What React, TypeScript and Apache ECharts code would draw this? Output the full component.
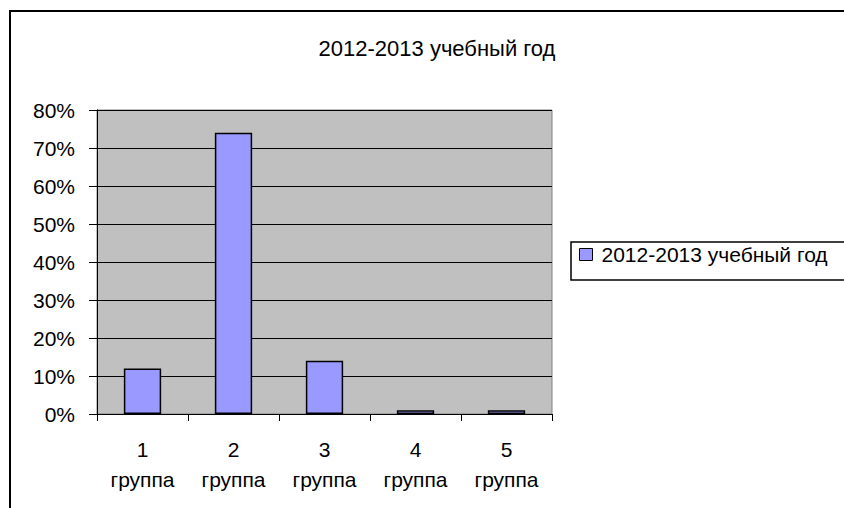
import React, { useEffect, useRef } from "react";
import * as echarts from "echarts";

const categories = ["1\nгруппа", "2\nгруппа", "3\nгруппа", "4\nгруппа", "5\nгруппа"];
const values = [0.12, 0.74, 0.14, 0.01, 0.01];
const seriesName = "2012-2013 учебный год";
const titleText = "2012-2013 учебный год";

export default function App() {
  const ref = useRef<HTMLDivElement>(null);
  useEffect(() => {
    const chart = echarts.init(ref.current!, undefined, { renderer: "svg" });
    const font = "'Liberation Sans', Arial, sans-serif";
    chart.setOption({
      animation: false,
      backgroundColor: "#fff",
      textStyle: { fontFamily: font },
      title: {
        text: titleText,
        left: 432,
        top: 32,
        textAlign: "center",
        textStyle: { fontFamily: font, fontSize: 22, fontWeight: "normal", color: "#000" },
      },
      graphic: [
        {
          type: "rect",
          shape: { x: 10, y: 11, width: 900, height: 600 },
          style: { fill: "none", stroke: "#000", lineWidth: 2 },
          silent: true,
          z: 100,
        },
        {
          type: "rect",
          shape: { x: 571, y: 242, width: 300, height: 38 },
          style: { fill: "#fff", stroke: "#000", lineWidth: 1.5 },
          silent: true,
          z: 0,
        },
      ],
      legend: {
        data: [seriesName],
        left: 579,
        top: 244,
        padding: 0,
        icon: "rect",
        itemWidth: 13,
        itemHeight: 12,
        itemStyle: { borderColor: "#000", borderWidth: 1 },
        textStyle: { fontFamily: font, fontSize: 21, color: "#000", padding: [0, 0, 0, 4] },
        z: 10,
      },
      grid: {
        left: 97,
        top: 110,
        width: 455,
        height: 304,
        show: true,
        backgroundColor: "#C0C0C0",
        borderColor: "#808080",
        borderWidth: 1,
      },
      xAxis: {
        type: "category",
        data: categories,
        axisLine: { lineStyle: { color: "#000", width: 1 } },
        axisTick: { show: true, length: 7, lineStyle: { color: "#000" } },
        axisLabel: { color: "#000", fontSize: 21, lineHeight: 30, margin: 20, fontFamily: font },
      },
      yAxis: {
        type: "value",
        min: 0,
        max: 0.8,
        interval: 0.1,
        axisLine: { show: true, lineStyle: { color: "#000", width: 1 } },
        axisTick: { show: true, length: 8, lineStyle: { color: "#000" } },
        splitLine: { lineStyle: { color: "#000", width: 1 } },
        axisLabel: {
          color: "#000",
          fontSize: 21,
          margin: 22,
          fontFamily: font,
          formatter: (v: number) => Math.round(v * 100) + "%",
        },
      },
      series: [
        {
          name: seriesName,
          type: "bar",
          data: values,
          barWidth: "41%",
          itemStyle: { color: "#9999FF", borderColor: "#000", borderWidth: 1.5 },
        },
      ],
    });
    return () => chart.dispose();
  }, []);
  return (
    <div
      ref={ref}
      style={{ position: "absolute", left: 0, top: 0, width: 844, height: 508 }}
    />
  );
}
